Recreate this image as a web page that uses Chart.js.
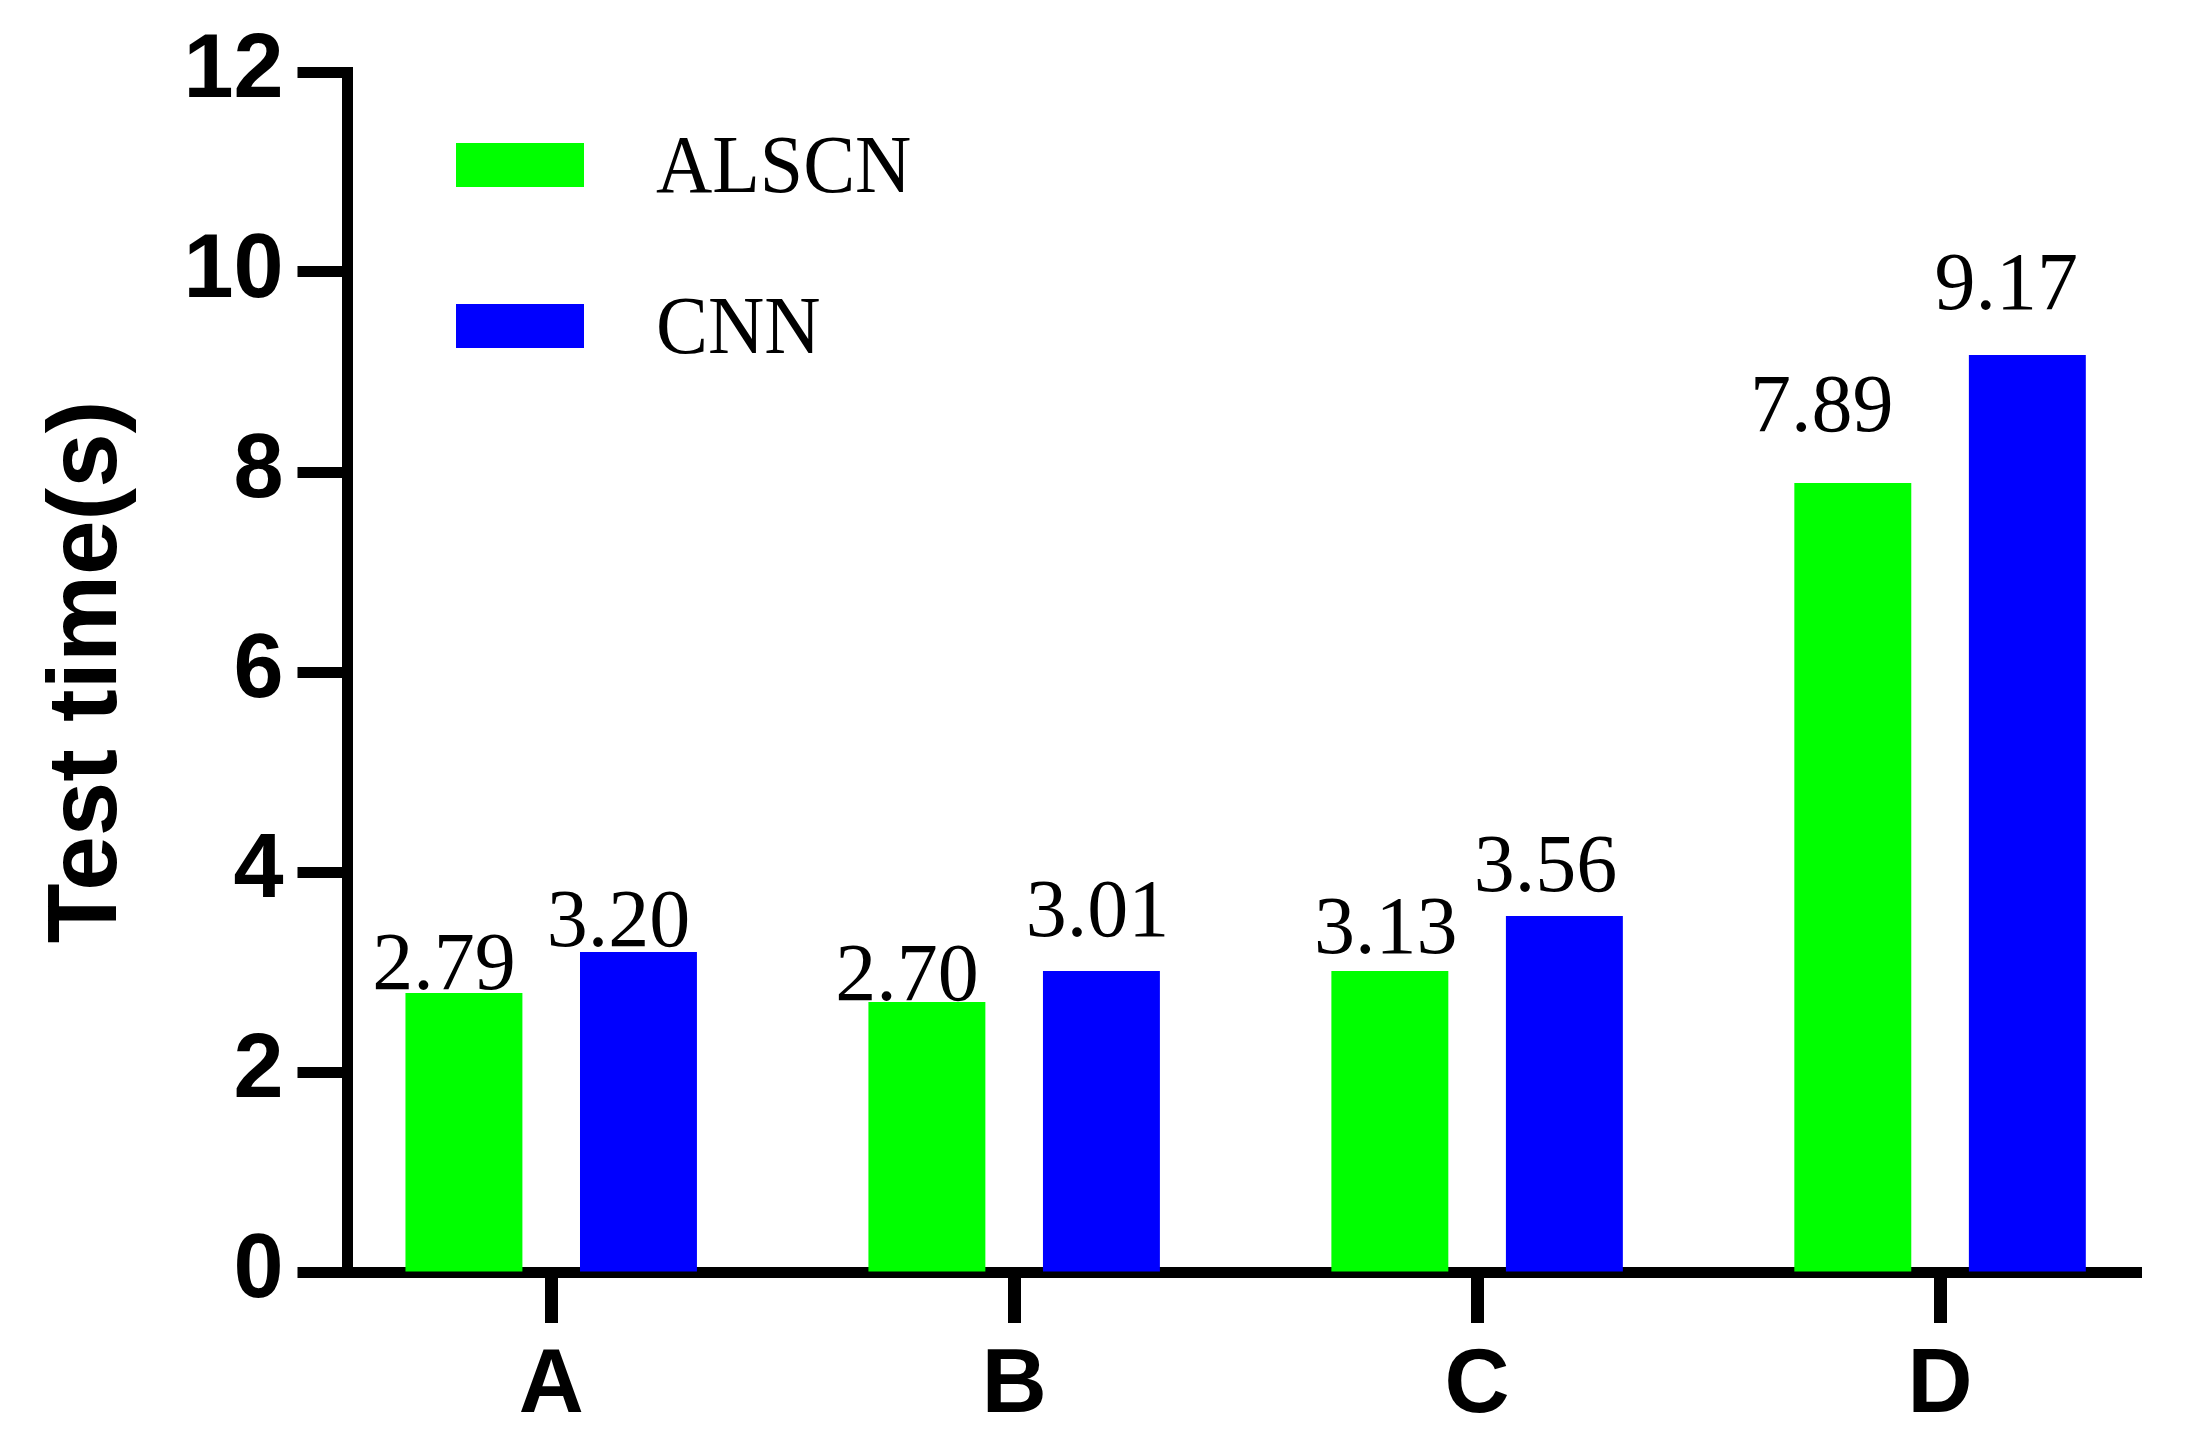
<!DOCTYPE html>
<html>
<head>
<meta charset="utf-8">
<title>Test time</title>
<script src="https://cdn.jsdelivr.net/npm/chart.js@4.4.1/dist/chart.umd.min.js"></script>
<style>
    html, body { margin: 0; padding: 0; background: #ffffff; }
    canvas { display: block; }
</style>
</head>
<body>
<canvas id="chart" width="2187" height="1456"></canvas>
<script>
const categories = ["A", "B", "C", "D"];
const alscnTimes = [2.79, 2.70, 3.01, 7.89];
const cnnTimes = [3.20, 3.01, 3.56, 9.17];
const alscnLabels = ["2.79", "2.70", "3.13", "7.89"];
const cnnLabels = ["3.20", "3.01", "3.56", "9.17"];
const yTicks = [0, 2, 4, 6, 8, 10, 12];

// value labels were placed by hand in the original: [dx, lift] in px
const alscnNudge = [[-20, 4], [-20, 2], [-4, 18], [-31, 52]];
const cnnNudge = [[-20, 6], [-4, 35], [-19, 25], [-21, 46]];

const sansBold = (size) => ({ family: "'Liberation Sans', Arial, sans-serif", size: size, weight: "bold" });

// numbers above the bars
const valueLabels = {
    id: "valueLabels",
    afterDatasetsDraw(chart) {
        const ctx = chart.ctx;
        const texts = [alscnLabels, cnnLabels];
        const nudges = [alscnNudge, cnnNudge];
        ctx.save();
        ctx.font = "82px 'Liberation Serif', 'Times New Roman', serif";
        ctx.fillStyle = "#000000";
        ctx.textAlign = "center";
        ctx.textBaseline = "alphabetic";
        chart.data.datasets.forEach((ds, d) => {
            chart.getDatasetMeta(d).data.forEach((bar, i) => {
                const [dx, lift] = nudges[d][i];
                ctx.fillText(texts[d][i], bar.x + dx, bar.y - lift);
            });
        });
        ctx.restore();
    }
};

// legend sits inside the plot, top left; its text is a little condensed
const boxLegend = {
    id: "boxLegend",
    afterDraw(chart) {
        const ctx = chart.ctx;
        chart.data.datasets.forEach((ds, i) => {
            const top = 143 + i * 161;
            ctx.save();
            ctx.fillStyle = ds.backgroundColor;
            ctx.fillRect(456, top, 128, 44);
            ctx.translate(656, top + 49);
            ctx.scale(0.95, 1);
            ctx.font = "82px 'Liberation Serif', 'Times New Roman', serif";
            ctx.textBaseline = "alphabetic";
            ctx.textAlign = "left";
            ctx.fillStyle = "#000000";
            ctx.fillText(ds.label, 0, 0);
            ctx.restore();
        });
    }
};

new Chart(document.getElementById("chart"), {
    type: "bar",
    data: {
        datasets: [
            {
                label: "ALSCN",
                data: alscnTimes.map((v, i) => ({ x: i, y: v })),
                backgroundColor: "#00ff00"
            },
            {
                label: "CNN",
                data: cnnTimes.map((v, i) => ({ x: i, y: v })),
                backgroundColor: "#0000ff"
            }
        ]
    },
    options: {
        responsive: false,
        animation: false,
        devicePixelRatio: 1,
        categoryPercentage: 0.754,
        barPercentage: 0.67,
        layout: { padding: { left: 10, top: 72, right: 46, bottom: 0 } },
        plugins: {
            legend: { display: false },
            tooltip: { enabled: false }
        },
        scales: {
            x: {
                type: "linear",
                min: -0.44,
                max: 3.434,
                offset: false,
                z: 1,
                afterBuildTicks: (scale) => {
                    scale.ticks = categories.map((c, i) => ({ value: i }));
                },
                afterFit: (scale) => { scale.height = 184; },
                border: { display: true, color: "#000000", width: 11 },
                grid: {
                    offset: false,
                    drawOnChartArea: false,
                    drawTicks: true,
                    tickLength: 51,
                    tickWidth: 13,
                    tickColor: "#000000"
                },
                ticks: {
                    callback: (v) => categories[v],
                    color: "#000000",
                    font: sansBold(90),
                    padding: 10,
                    maxRotation: 0
                }
            },
            y: {
                min: 0,
                max: 12,
                z: 1,
                afterBuildTicks: (scale) => {
                    scale.ticks = yTicks.map((v) => ({ value: v }));
                },
                afterFit: (scale) => { scale.width = 337.5; },
                border: { display: true, color: "#000000", width: 11 },
                grid: {
                    drawOnChartArea: false,
                    drawTicks: true,
                    tickLength: 50,
                    tickWidth: 11,
                    tickColor: "#000000"
                },
                ticks: {
                    color: "#000000",
                    font: sansBold(90),
                    padding: 14
                },
                title: {
                    display: true,
                    text: "Test time(s)",
                    color: "#000000",
                    font: sansBold(98),
                    padding: { top: 20, bottom: 0 }
                }
            }
        }
    },
    plugins: [valueLabels, boxLegend]
});
</script>
</body>
</html>
